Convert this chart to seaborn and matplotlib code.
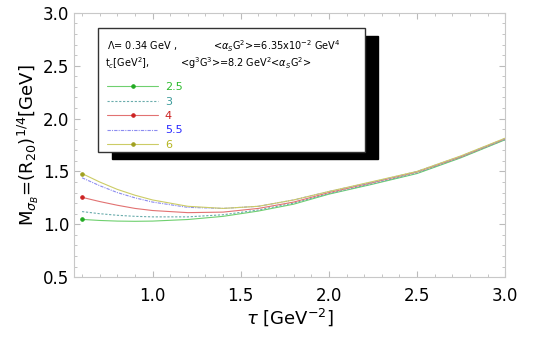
import numpy as np
import pandas as pd
import matplotlib
matplotlib.use("Agg")
import matplotlib.pyplot as plt
import seaborn as sns
from matplotlib.patches import Rectangle

# valores
tau = [0.6, 0.7, 0.8, 0.9, 1.0, 1.2, 1.4, 1.6, 1.8, 2.0, 2.25, 2.5, 2.75, 3.0]
m_25 = [1.046, 1.036, 1.030, 1.028, 1.030, 1.045, 1.075, 1.125, 1.190, 1.285, 1.380, 1.480, 1.630, 1.800]
m_3 = [1.120, 1.100, 1.085, 1.075, 1.070, 1.070, 1.090, 1.135, 1.200, 1.290, 1.385, 1.485, 1.635, 1.803]
m_4 = [1.255, 1.215, 1.180, 1.150, 1.130, 1.110, 1.115, 1.150, 1.210, 1.300, 1.395, 1.495, 1.640, 1.810]
m_55 = [1.440, 1.365, 1.300, 1.250, 1.210, 1.160, 1.150, 1.170, 1.230, 1.310, 1.400, 1.500, 1.645, 1.812]
m_6 = [1.480, 1.400, 1.330, 1.275, 1.230, 1.170, 1.150, 1.170, 1.230, 1.310, 1.405, 1.500, 1.648, 1.815]
etiquetas = ["2.5", "3", "4", "5.5", "6"]

series = [m_25, m_3, m_4, m_55, m_6]
colores = ["#6fd06f", "#6aacac", "#e27272", "#8c8cf0", "#cccc66"]
col_txt = ["#2fbb2f", "#3a9a9a", "#cc2222", "#2a2aff", "#b5b520"]
col_mark = ["#22aa22", None, "#cc2222", None, "#a0a020"]
estilos = ["-", (0, (2, 1.5)), "-", (0, (3, 1, 1, 1)), "-"]

sns.set_style("white")
plt.rcParams["text.color"] = "black"
plt.rcParams["axes.labelcolor"] = "black"
fig = plt.figure(figsize=(5.45, 3.4), dpi=100)
ax = fig.add_axes([0.136, 0.185, 0.791, 0.777])

for vals, lab, c, cm, ls in zip(series, etiquetas, colores, col_mark, estilos):
    df = pd.DataFrame({"tau": tau, "M": vals})
    kw = {}
    if cm is not None:
        kw = dict(marker="o", markersize=2.5, markevery=[0], markerfacecolor=cm, markeredgecolor=cm)
    sns.lineplot(data=df, x="tau", y="M", ax=ax, color=c, linewidth=0.8, linestyle=ls, label=lab, **kw)

ax.set_xlim(0.555, 3.0)
ax.set_ylim(0.5, 3.0)
ax.set_xticks([1.0, 1.5, 2.0, 2.5, 3.0])
ax.set_yticks([0.5, 1.0, 1.5, 2.0, 2.5, 3.0])
ax.set_xticks(np.arange(0.6, 3.0, 0.1), minor=True)
ax.set_yticks(np.arange(0.6, 3.0, 0.1), minor=True)
ax.tick_params(which="both", direction="in", color="#bbbbbb", labelsize=12, labelcolor="black",
               bottom=True, left=True, top=True, right=True)
ax.tick_params(which="major", length=4, width=0.8)
ax.tick_params(which="minor", length=2, width=0.6)
ax.tick_params(axis="x", which="major", pad=7)
for s in ax.spines.values():
    s.set_color("#c8c8c8")
    s.set_linewidth(0.8)

ax.set_xlabel(r"$\tau$ [GeV$^{-2}$]", fontsize=13, labelpad=1)
ax.set_ylabel(r"M$_{\sigma_B}$=(R$_{20}$)$^{1/4}$[GeV]", fontsize=13, labelpad=1)

# caja con sombra
ax.add_patch(Rectangle((0.088, 0.447), 0.617, 0.466, transform=ax.transAxes, facecolor="black", edgecolor="black", zorder=5))
ax.add_patch(Rectangle((0.0557, 0.4735), 0.619, 0.4695, transform=ax.transAxes, facecolor="white", edgecolor="#333333", linewidth=1.0, zorder=6))

ax.text(0.0766, 0.875, r"$\Lambda$= 0.34 GeV ,", transform=ax.transAxes, fontsize=7, va="center", zorder=7)
ax.text(0.3225, 0.875, r"<$\alpha_S$G$^2$>=6.35x10$^{-2}$ GeV$^4$", transform=ax.transAxes, fontsize=7, va="center", zorder=7)
ax.text(0.072, 0.81, r"t$_c$[GeV$^2$],", transform=ax.transAxes, fontsize=7, va="center", zorder=7)
ax.text(0.246, 0.81, r"<g$^3$G$^3$>=8.2 GeV$^2$<$\alpha_S$G$^2$>", transform=ax.transAxes, fontsize=7, va="center", zorder=7)

h, l = ax.get_legend_handles_labels()
leg = ax.legend(h, l, loc="upper left", bbox_to_anchor=(0.0766, 0.738), frameon=False, fontsize=8,
                handlelength=4.6, handletextpad=0.6, labelspacing=0.4, borderpad=0, borderaxespad=0,
                labelcolor=col_txt)
leg.set_zorder(8)

fig.savefig("out.png", dpi=100)
